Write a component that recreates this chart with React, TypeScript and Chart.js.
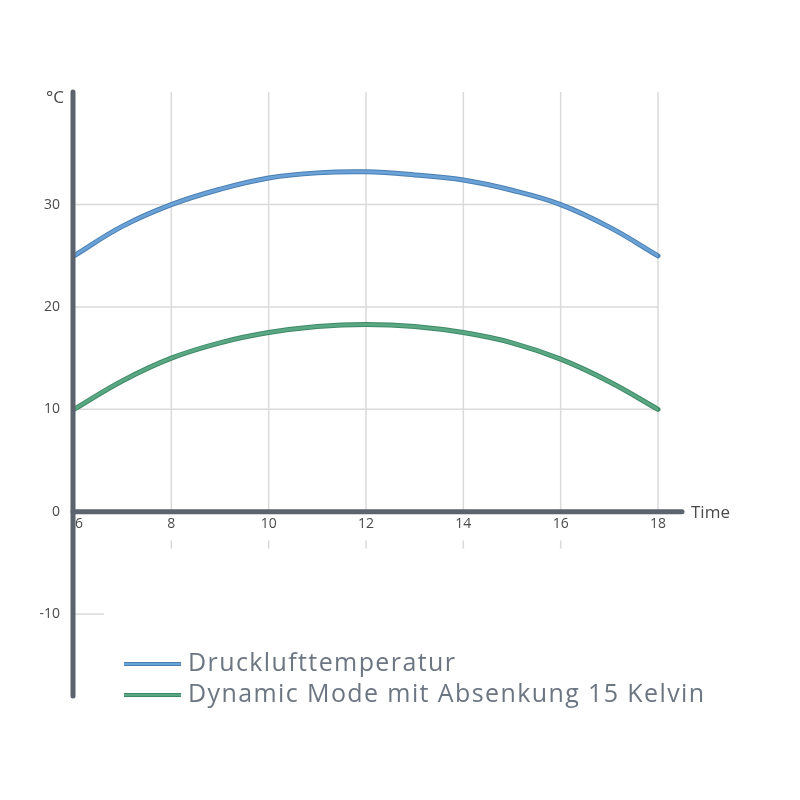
import React, { useEffect, useRef } from "react";
import { Chart, registerables } from "chart.js";

Chart.register(...registerables);

const hours = [6, 7, 8, 9, 10, 11, 12, 13, 14, 15, 16, 17, 18];
const druckluft = [25, 27.9, 30, 31.5, 32.6, 33.1, 33.2, 32.9, 32.4, 31.4, 30, 27.8, 25];
const dynamicMode = [10, 12.8, 15, 16.5, 17.5, 18.1, 18.3, 18.1, 17.5, 16.5, 14.9, 12.7, 10];
const xTicks = [6, 8, 10, 12, 14, 16, 18];
const yTicks = [-10, 0, 10, 20, 30];
const yGrid = [10, 20, 30];
const seriesLabels = ["Drucklufttemperatur", "Dynamic Mode mit Absenkung 15 Kelvin"];
const seriesColors = ["#6aa1d6", "#5aa783"];
const seriesEdge = ["#4a7fb2", "#3f8a66"];
const yUnit = "°C";
const xTitle = "Time";

const AXIS = "#5b636f";
const GRID = "#dadada";
const TEXT = "#4a4a4a";
const FONT = "'Open Sans', 'Noto Sans', sans-serif";

const customPlugin = {
  id: "customAxes",
  beforeDatasetsDraw(chart: any) {
    const { ctx, scales } = chart;
    const xs = scales.x;
    const ys = scales.y;
    ctx.save();
    ctx.strokeStyle = GRID;
    ctx.lineWidth = 1.5;
    const top = ys.getPixelForValue(ys.max);
    const zero = ys.getPixelForValue(0);
    xTicks.forEach((t) => {
      if (t === xs.min) return;
      const px = xs.getPixelForValue(t);
      ctx.beginPath();
      ctx.moveTo(px, top);
      ctx.lineTo(px, zero);
      ctx.stroke();
      if (t < xs.max) {
        ctx.beginPath();
        ctx.moveTo(px, ys.getPixelForValue(-2.8));
        ctx.lineTo(px, ys.getPixelForValue(-3.6));
        ctx.stroke();
      }
    });
    const x0 = xs.getPixelForValue(xs.min);
    const x1 = xs.getPixelForValue(xs.max);
    yGrid.forEach((v) => {
      const py = ys.getPixelForValue(v);
      ctx.beginPath();
      ctx.moveTo(x0, py);
      ctx.lineTo(x1, py);
      ctx.stroke();
    });
    yTicks.filter((v) => v < 0).forEach((v) => {
      const py = ys.getPixelForValue(v);
      ctx.beginPath();
      ctx.moveTo(x0, py);
      ctx.lineTo(x0 + 30, py);
      ctx.stroke();
    });
    ctx.restore();
  },
  afterDatasetsDraw(chart: any) {
    const { ctx, scales } = chart;
    const xs = scales.x;
    const ys = scales.y;
    const x0 = xs.getPixelForValue(xs.min) - 1;
    const top = ys.getPixelForValue(ys.max);
    const bottom = ys.getPixelForValue(ys.min);
    const zero = ys.getPixelForValue(0);
    const xEnd = xs.getPixelForValue(xs.max) + 24;
    ctx.save();
    ctx.lineCap = "round";
    ctx.strokeStyle = AXIS;
    ctx.lineWidth = 5;
    ctx.beginPath();
    ctx.moveTo(x0, top);
    ctx.lineTo(x0, bottom);
    ctx.stroke();
    ctx.beginPath();
    ctx.moveTo(x0, zero);
    ctx.lineTo(xEnd, zero);
    ctx.stroke();

    ctx.fillStyle = TEXT;
    ctx.font = `14px ${FONT}`;
    ctx.textAlign = "right";
    ctx.textBaseline = "middle";
    yTicks.forEach((v) => {
      ctx.fillText(String(v), x0 - 13, ys.getPixelForValue(v));
    });
    ctx.textAlign = "center";
    ctx.textBaseline = "top";
    xTicks.forEach((t) => {
      const px = xs.getPixelForValue(t) + (t === xs.min ? 5 : 0);
      ctx.fillText(String(t), px, zero + 5);
    });
    ctx.font = `17px ${FONT}`;
    ctx.textAlign = "right";
    ctx.textBaseline = "middle";
    ctx.fillText(yUnit, x0 - 9, top + 6);
    ctx.textAlign = "left";
    ctx.fillText(xTitle, xEnd + 9, zero + 1);

    const items = chart.data.datasets;
    items.forEach((ds: any, i: number) => {
      const ly = 664 + i * 31;
      ctx.lineCap = "butt";
      ctx.strokeStyle = seriesEdge[i];
      ctx.lineWidth = 4;
      ctx.beginPath();
      ctx.moveTo(124, ly);
      ctx.lineTo(181, ly);
      ctx.stroke();
      ctx.strokeStyle = ds.borderColor;
      ctx.lineWidth = 2;
      ctx.beginPath();
      ctx.moveTo(124, ly);
      ctx.lineTo(181, ly);
      ctx.stroke();
      ctx.fillStyle = "#6c7582";
      ctx.font = `25px ${FONT}`;
      (ctx as any).letterSpacing = "1.4px";
      ctx.textAlign = "left";
      ctx.textBaseline = "middle";
      ctx.fillText(ds.label, 188, ly);
      (ctx as any).letterSpacing = "0px";
    });
    ctx.restore();
  },
};

const edgePlugin = {
  id: "lineEdge",
  beforeDatasetDraw(chart: any, args: any) {
    const meta = args.meta;
    const { ctx } = chart;
    const pts = meta.data;
    if (!pts || pts.length < 2) return;
    ctx.save();
    ctx.strokeStyle = seriesEdge[args.index];
    ctx.lineWidth = 5;
    ctx.lineCap = "round";
    ctx.lineJoin = "round";
    ctx.beginPath();
    ctx.moveTo(pts[0].x, pts[0].y);
    for (let i = 1; i < pts.length; i++) {
      const p0 = pts[i - 1];
      const p1 = pts[i];
      ctx.bezierCurveTo(p0.cp2x, p0.cp2y, p1.cp1x, p1.cp1y, p1.x, p1.y);
    }
    ctx.stroke();
    ctx.restore();
  },
};

export default function App() {
  const ref = useRef<HTMLCanvasElement | null>(null);
  useEffect(() => {
    if (!ref.current) return;
    const chart = new Chart(ref.current, {
      type: "line",
      data: {
        datasets: [
          {
            label: seriesLabels[0],
            data: hours.map((h, i) => ({ x: h, y: druckluft[i] })),
            borderColor: seriesColors[0],
            borderWidth: 3,
            pointRadius: 0,
            tension: 0.4,
            borderCapStyle: "round",
          },
          {
            label: seriesLabels[1],
            data: hours.map((h, i) => ({ x: h, y: dynamicMode[i] })),
            borderColor: seriesColors[1],
            borderWidth: 3,
            pointRadius: 0,
            tension: 0.4,
            borderCapStyle: "round",
          },
        ],
      },
      options: {
        animation: false,
        responsive: false,
        layout: { padding: { left: 74, top: 92, right: 142, bottom: 104 } },
        plugins: { legend: { display: false }, tooltip: { enabled: false } },
        scales: {
          x: { type: "linear", min: 6, max: 18, display: false },
          y: { type: "linear", min: -18, max: 41, display: false },
        },
      },
      plugins: [edgePlugin, customPlugin],
    } as any);
    return () => chart.destroy();
  }, []);
  return (
    <div style={{ position: "absolute", left: 0, top: 0, width: 800, height: 800, background: "#fff" }}>
      <canvas ref={ref} width={800} height={800} style={{ width: 800, height: 800 }} />
    </div>
  );
}
